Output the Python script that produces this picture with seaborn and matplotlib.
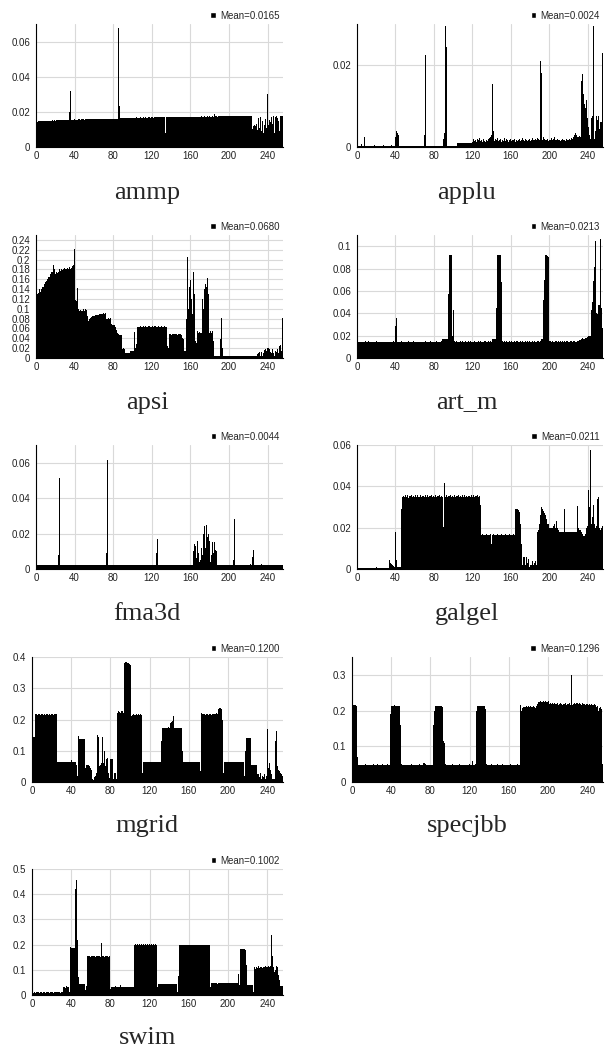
import numpy as np
import matplotlib
matplotlib.use("Agg")
import matplotlib.pyplot as plt
from matplotlib.patches import Patch
import seaborn as sns

# -- Data: 256 bins per benchmark, values in units of 1e-4
ammp_e4 = [
    150,145,148,150,147,150,148,150,149,150,147,150,150,148,140,150,
    150,152,150,153,150,155,152,155,153,155,155,154,156,155,155,156,
    155,154,200,320,155,156,155,157,156,155,157,156,158,157,156,158,
    157,158,156,160,158,157,159,160,158,160,157,159,160,160,158,160,
    160,161,160,160,162,160,161,160,160,161,162,160,160,161,160,162,
    160,161,160,161,160,680,235,165,166,164,166,165,167,165,166,167,
    165,167,166,167,166,167,167,166,168,167,166,167,168,167,166,168,
    167,168,167,165,168,170,167,168,169,167,168,170,169,168,170,169,
    170,168,169,170,170,169,80,168,170,169,171,170,169,171,170,172,
    171,170,172,171,170,172,171,172,170,171,172,171,172,173,171,172,
    172,173,172,171,173,172,173,172,171,173,172,174,173,172,174,173,
    172,174,173,174,172,173,174,173,174,185,175,174,173,175,174,176,
    175,174,176,175,176,175,174,176,175,177,175,176,177,175,176,177,
    176,177,175,177,176,178,177,176,178,177,176,178,177,176,175,178,
    100,120,125,120,130,95,165,110,170,90,150,80,125,160,110,300,
    125,95,155,145,170,130,175,80,170,175,165,150,90,175,175,178,
]
applu_e4 = [
    3,3,3,3,8,3,3,25,3,3,3,3,3,3,3,3,
    3,3,6,3,3,3,3,3,3,3,3,5,3,3,3,3,
    3,3,3,5,3,3,3,3,25,40,35,30,3,3,3,3,
    3,3,3,3,3,3,3,3,3,3,3,3,3,3,3,3,
    3,3,3,3,3,3,30,225,3,3,3,3,3,3,3,3,
    3,3,3,3,3,3,3,3,3,3,20,35,296,245,3,3,
    3,3,3,3,3,3,3,3,10,10,10,10,10,10,10,10,
    10,10,10,10,10,10,10,10,12,20,15,18,12,20,16,22,
    14,18,12,20,15,12,18,14,20,22,25,30,85,153,40,15,
    20,18,22,14,16,20,12,18,15,22,14,20,16,12,18,20,
    14,18,16,20,12,16,22,15,18,20,14,16,22,18,15,20,
    16,14,18,20,15,18,22,16,18,20,16,22,20,18,210,181,
    20,18,25,20,16,18,20,15,18,16,22,18,20,25,18,16,
    20,18,16,15,18,20,16,18,15,17,20,18,16,20,18,22,
    20,25,30,34,30,25,25,28,25,160,178,130,105,95,115,70,
    50,30,20,60,70,75,296,20,40,75,65,75,45,60,60,230,
]
apsi_e4 = [
    1350,1300,1320,1400,1350,1400,1450,1450,1500,1550,1560,1600,1650,1650,1700,1700,
    1750,1750,1900,1800,1700,1750,1720,1750,1800,1760,1800,1790,1800,1830,1800,1810,
    1830,1800,1840,1810,1830,1860,1900,2220,1180,1150,1200,1420,1000,950,980,950,
    960,1000,950,1000,980,850,750,800,820,840,850,860,860,870,880,880,
    880,890,900,900,900,910,900,920,920,800,800,810,800,810,700,680,
    680,680,620,570,500,480,460,470,460,180,200,180,100,100,100,100,
    100,150,150,150,150,150,530,200,280,620,640,630,650,630,640,660,
    640,650,630,640,650,660,640,630,650,640,660,650,640,630,650,640,
    620,640,650,630,640,650,640,620,250,200,480,490,470,480,490,480,
    480,490,470,480,490,480,470,400,380,150,150,800,950,2060,1000,1450,
    1580,1200,900,1750,1300,350,300,550,500,520,500,500,1200,1000,1400,1500,
    1450,1620,1300,500,550,500,550,350,40,40,40,40,40,50,40,380,
    810,200,40,40,40,40,40,40,40,40,40,40,40,40,40,40,
    40,40,40,40,40,40,40,40,40,40,40,40,40,40,40,40,
    40,40,40,40,40,80,100,120,50,120,40,100,160,180,150,200,
    200,280,180,120,100,180,100,50,150,120,180,100,250,270,150,810,
]
art_m_e4 = [
    145,140,145,140,145,142,140,145,150,145,140,150,145,140,145,142,
    145,140,145,142,148,140,145,140,145,142,140,145,140,142,145,140,
    145,142,140,145,142,148,145,140,290,355,145,142,145,140,148,145,
    140,145,142,145,140,148,145,142,140,145,148,140,145,142,145,140,
    148,145,140,145,142,145,140,148,145,142,145,140,148,145,142,145,
    140,145,148,142,145,140,145,148,170,170,168,172,170,170,172,575,
    920,920,918,200,430,150,145,148,145,142,145,148,145,150,142,145,
    148,145,142,145,148,145,150,145,142,145,148,145,142,145,150,145,
    148,145,142,145,148,150,145,142,148,145,150,145,148,170,172,170,
    170,450,920,918,920,920,680,150,145,148,145,150,142,145,148,145,
    150,145,142,148,145,150,145,148,142,145,150,145,148,145,142,150,
    145,148,145,150,142,145,148,145,150,145,142,148,150,145,148,170,
    175,170,520,700,920,920,912,905,150,148,145,150,142,145,148,150,
    145,148,142,150,145,148,145,150,142,145,148,150,145,142,148,150,
    145,148,150,145,142,148,150,160,165,170,175,168,172,180,175,190,
    195,200,198,202,430,500,690,810,1045,400,390,470,470,1060,450,270,
]
fma3d_e4 = [
    25,25,25,25,25,25,25,25,25,25,25,25,25,25,25,25,
    25,25,25,25,25,25,25,80,515,25,25,25,25,25,25,25,
    25,25,25,25,25,25,25,25,25,25,25,25,25,25,25,25,
    25,25,25,25,25,25,25,25,25,25,25,25,25,25,25,25,
    25,25,25,25,25,25,25,25,25,88,615,25,25,25,25,25,
    25,25,25,25,25,25,25,25,25,25,25,25,25,25,25,25,
    25,25,25,25,25,25,25,25,25,25,25,25,25,25,25,25,
    25,25,25,25,25,25,25,25,25,25,25,25,90,170,25,25,
    25,25,25,25,25,25,25,25,25,25,25,25,25,25,25,25,
    25,25,25,25,25,25,25,25,25,25,25,25,25,25,25,25,
    25,25,25,100,140,130,60,160,90,40,50,120,80,200,240,120,
    250,180,200,160,40,80,150,90,190,150,110,100,25,25,25,25,
    25,25,25,25,25,25,25,25,25,25,25,25,50,280,25,25,
    25,25,25,25,25,30,25,25,25,25,25,25,25,25,30,25,
    70,105,25,25,25,25,25,25,25,30,25,25,25,25,25,25,
    25,25,25,25,25,25,25,25,25,25,25,25,25,25,25,25,
]
galgel_e4 = [
    3,3,3,3,3,3,3,3,3,3,3,3,3,3,3,3,
    3,3,3,3,8,3,3,3,3,3,3,3,3,3,3,3,
    3,45,30,25,20,15,15,10,180,45,10,10,10,10,290,350,
    355,348,356,350,357,345,355,352,358,346,355,350,356,348,357,350,
    355,346,358,350,352,355,348,357,350,356,346,355,352,358,348,354,
    350,357,346,355,352,358,348,355,350,357,205,415,350,356,348,355,
    352,358,346,355,350,357,348,355,352,358,346,355,350,356,348,357,
    350,355,346,358,352,355,348,357,350,356,346,355,352,358,348,355,
    310,165,168,165,166,165,168,165,166,165,168,120,166,165,168,165,
    166,165,168,165,166,165,168,165,166,165,168,165,166,165,168,165,
    166,165,168,165,290,290,288,290,285,275,220,120,20,60,60,20,
    60,30,50,10,20,20,40,20,30,40,20,180,190,220,260,300,
    295,290,280,270,260,240,220,220,200,200,200,200,210,220,200,230,
    200,190,180,180,180,180,180,290,180,180,180,180,180,180,180,180,
    180,180,180,180,180,305,200,190,190,180,170,160,160,170,200,210,
    380,300,575,250,220,250,310,220,200,210,340,350,200,190,200,210,
]
mgrid_e4 = [
    450,1450,1450,2170,2180,2160,2170,2190,2150,2170,2180,2160,2170,2150,2180,2170,
    2160,2180,2150,2170,2180,2160,2170,2180,2170,300,650,650,650,650,650,650,
    650,650,650,650,650,650,650,650,720,650,650,650,650,550,200,1480,
    1380,1380,1380,1380,1380,1380,450,550,550,550,500,450,400,100,50,150,
    200,300,1520,1450,500,550,600,1450,600,1000,500,750,780,780,300,120,
    750,750,750,100,300,300,100,2220,2280,2250,2220,2280,2260,2200,3800,3850,
    3840,3820,3800,3780,3750,2100,2160,2170,2160,2150,2170,2160,2170,2150,2170,2160,
    300,650,650,650,650,650,650,650,650,650,650,650,650,650,650,650,
    650,650,650,650,1300,1730,1740,1730,1720,1740,1730,1750,1740,1880,1920,1940,
    2100,1730,1740,1730,1720,1740,1730,1740,1730,1000,650,650,650,650,650,650,
    650,650,650,650,650,650,650,650,650,650,650,350,2200,2180,2170,2190,
    2160,2180,2170,2190,2160,2180,2170,2160,2180,2170,2190,2180,2200,2180,2330,2360,
    2370,2330,2000,300,650,650,650,650,650,650,650,650,650,650,650,650,
    650,650,650,650,650,650,650,650,200,1000,1420,1400,1400,1400,1400,550,
    550,550,550,550,550,250,250,250,150,300,100,200,150,250,100,200,
    1700,450,600,400,250,100,100,100,1300,1630,500,400,350,300,250,200,
]
specjbb_e4 = [
    2100,2150,2160,2150,2140,700,480,470,490,480,470,490,480,500,480,470,
    490,480,470,490,480,500,470,490,480,470,500,480,490,470,480,500,
    480,470,490,480,500,480,490,1900,2130,2140,2120,2150,2130,2140,2120,2130,
    2140,1600,500,480,490,470,480,490,480,470,490,480,500,470,480,490,
    480,470,490,480,500,480,490,480,520,530,500,490,480,470,490,480,
    490,480,470,1600,2000,2130,2140,2120,2130,2140,2130,2120,2100,1150,1100,500,
    480,490,470,480,490,480,500,470,490,480,470,490,480,500,480,490,
    470,480,490,480,470,490,480,500,480,490,580,480,470,500,2000,2130,
    2140,2120,2130,2140,2130,2120,2140,2130,2050,500,480,490,470,480,500,490,
    480,470,490,480,500,480,470,490,480,500,470,480,490,480,470,490,
    480,500,470,490,480,470,490,480,500,470,480,2150,2000,2080,2100,2110,
    2090,2120,2100,2110,2130,2100,2120,2090,2110,2130,2100,2080,2120,2180,2240,2250,
    2260,2240,2250,2270,2240,2260,2250,2240,2260,2180,2200,2190,2210,2180,2200,2190,
    2180,2200,2170,2190,2200,2180,2170,2190,2180,2200,2170,2190,2180,2200,2150,3000,
    2150,2180,2200,2190,2210,2200,2190,2180,2200,2190,2170,2200,2180,2190,2170,2180,
    2190,2170,2180,2160,2190,2170,2150,2180,2160,2100,2120,2000,2080,2100,2050,500,
]
swim_e4 = [
    100,80,120,90,110,100,130,90,100,120,80,110,100,90,130,100,
    110,90,100,120,100,80,110,130,100,90,110,100,120,90,100,110,
    300,320,280,350,300,330,100,1900,1850,1850,1870,1850,4200,4580,2200,700,
    420,420,420,420,420,420,200,350,1530,1540,1530,1520,1540,1530,1540,1530,
    1520,1540,1530,1540,1530,1520,2050,1540,1530,1520,1540,1530,1540,1530,1520,1530,
    250,330,330,330,330,340,330,330,330,330,400,330,330,330,330,330,
    330,330,330,330,330,330,330,300,2000,2020,2000,2010,2000,2020,2000,2010,
    2000,2020,2000,2010,2000,2020,2000,2010,2000,2020,2000,2010,2000,2020,2000,300,
    420,420,420,420,420,420,420,420,420,420,420,420,420,420,420,420,
    420,420,420,420,100,750,1980,1990,1970,1980,1990,1980,1970,1980,1990,1980,
    1980,1980,1980,1980,1980,1980,1980,1980,1980,1980,1980,1980,1980,1980,1980,1980,
    1980,1980,1980,1980,1980,1980,300,470,460,470,480,460,470,450,460,460,
    460,460,460,460,460,460,460,460,460,460,460,460,460,460,460,460,
    460,460,850,400,1820,1820,1820,1820,1820,1800,1200,400,400,400,400,400,
    400,100,1100,1050,1120,1080,1100,1150,1060,1120,1100,1080,1130,1100,1150,1120,
    1130,1150,1120,1140,2400,1550,1100,900,1000,1150,1100,800,600,350,350,350,
]

names = ["ammp", "applu", "apsi", "art_m", "fma3d", "galgel", "mgrid", "specjbb", "swim"]
series = [ammp_e4, applu_e4, apsi_e4, art_m_e4, fma3d_e4, galgel_e4, mgrid_e4, specjbb_e4, swim_e4]
means = ["0.0165", "0.0024", "0.0680", "0.0213", "0.0044", "0.0211", "0.1200", "0.1296", "0.1002"]
y_tops = [0.07, 0.03, 0.25, 0.11, 0.07, 0.06, 0.4, 0.35, 0.5]
y_steps = [0.02, 0.02, 0.02, 0.02, 0.02, 0.02, 0.1, 0.1, 0.1]
x_ticks = [0, 40, 80, 120, 160, 200, 240]

# -- Layout (pixels): axes left, top, right, bottom; title centre x, y
W, H = 605, 1053
axes_px = [
    (36, 24, 283, 147), (357, 24, 603, 147),
    (36, 235, 283, 358), (357, 235, 603, 358),
    (36, 445, 283, 569), (357, 445, 603, 569),
    (32, 657, 283, 782), (352, 657, 603, 782),
    (32, 869, 283, 995),
]
title_px = [
    (147, 193), (467, 193),
    (147, 403), (467, 403),
    (147, 614), (467, 614),
    (147, 826), (467, 826),
    (148, 1038),
]

sns.set_style("whitegrid")
plt.rcParams["font.family"] = ["Liberation Sans", "DejaVu Sans"]

fig = plt.figure(figsize=(W / 100, H / 100), dpi=100)

for i, name in enumerate(names):
    vals = np.array(series[i]) / 1e4
    assert len(vals) == 256, name
    l, t, r, b = axes_px[i]
    ax = fig.add_axes([l / W, 1 - b / H, (r - l) / W, (b - t) / H])
    pos = np.arange(256) + 0.5
    sns.barplot(x=pos, y=vals, native_scale=True, width=1, color="black",
                saturation=1, linewidth=0, errorbar=None, ax=ax)
    ax.set_xlim(0, 256)
    ax.set_ylim(0, y_tops[i])
    ax.set_xticks(x_ticks)
    ax.set_xticklabels([str(v) for v in x_ticks])
    yt = np.arange(0, y_tops[i] + 1e-9, y_steps[i])
    ax.set_yticks(yt)
    ax.set_yticklabels([f"{round(v, 4):g}" for v in yt])
    ax.set_xlabel("")
    ax.set_ylabel("")
    ax.grid(True, color="#d9d9d9", linewidth=0.8)
    ax.set_axisbelow(True)
    ax.tick_params(labelsize=7, colors="#222222")
    ax.tick_params(axis="x", length=0, pad=3)
    ax.tick_params(axis="y", length=2.5, width=0.6, color="#999999", pad=1.5)
    for side in ["top", "right"]:
        ax.spines[side].set_visible(False)
    for side in ["left", "bottom"]:
        ax.spines[side].set_color("black")
        ax.spines[side].set_linewidth(0.8)
    ax.legend(handles=[Patch(facecolor="black", label=f"Mean={means[i]}")],
              loc="lower right", bbox_to_anchor=(1.0, 1.0), frameon=False,
              fontsize=7, handlelength=0.6, handleheight=0.6,
              handletextpad=0.4, borderpad=0, borderaxespad=0.35)
    tx, ty = title_px[i]
    fig.text(tx / W, 1 - ty / H, name, ha="center", va="center",
             fontsize=19, family=["Liberation Serif", "DejaVu Serif"])

plt.savefig("out.png", dpi=100)
